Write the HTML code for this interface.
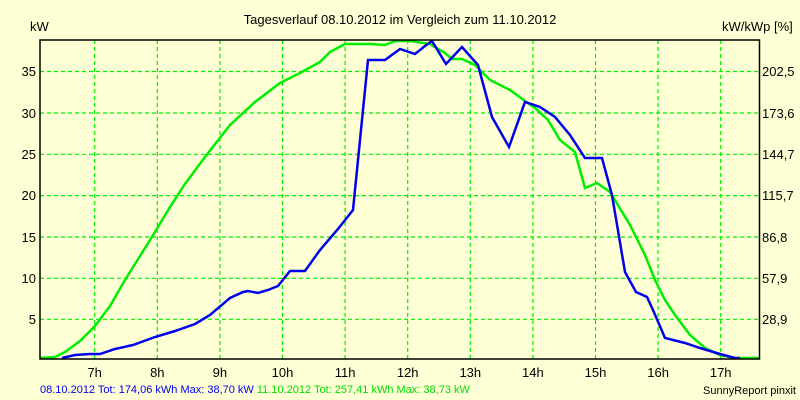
<!DOCTYPE html>
<html><head><style>body{margin:0;background:#ffffd5;}svg{display:block;font-family:"Liberation Sans",sans-serif;}</style></head><body>
<svg width="800" height="400" xmlns="http://www.w3.org/2000/svg">
<rect width="800" height="400" fill="#ffffd5"/>
<g stroke="#00ee00" stroke-dasharray="4,3" stroke-width="1.2">
<line x1="94.7" y1="40" x2="94.7" y2="359"/><line x1="157.3" y1="40" x2="157.3" y2="359"/><line x1="219.9" y1="40" x2="219.9" y2="359"/><line x1="282.5" y1="40" x2="282.5" y2="359"/><line x1="345.1" y1="40" x2="345.1" y2="359"/><line x1="407.7" y1="40" x2="407.7" y2="359"/><line x1="470.3" y1="40" x2="470.3" y2="359"/><line x1="532.9" y1="40" x2="532.9" y2="359"/><line x1="595.5" y1="40" x2="595.5" y2="359"/><line x1="658.1" y1="40" x2="658.1" y2="359"/><line x1="720.7" y1="40" x2="720.7" y2="359"/>
<line x1="40" y1="71.5" x2="760" y2="71.5"/><line x1="40" y1="113" x2="760" y2="113"/><line x1="40" y1="154.3" x2="760" y2="154.3"/><line x1="40" y1="195.6" x2="760" y2="195.6"/><line x1="40" y1="237" x2="760" y2="237"/><line x1="40" y1="278.3" x2="760" y2="278.3"/><line x1="40" y1="319.3" x2="760" y2="319.3"/>
</g>
<polyline fill="none" stroke="#00ee00" stroke-width="2.5" points="40,358 55,357 65,352 80,341 95,326 110,306 125,280 140,256 155,232 170,207 185,184 205,157 230,125 255,102 280,83 300,73 320,62 330,52 345,44 370,44 385,45 395,41 410,41 430,44 445,53 452,59 462,59 475,65 490,80 500,85 510,90 525,101 535,108 548,120 560,140 575,152 585,188 597,183 610,192 630,225 645,255 655,280 665,300 675,315 690,335 705,348 720,355 735,358 760,358"/>
<polyline fill="none" stroke="#0000ee" stroke-width="2.5" points="62,358 75,355 90,354 100,354 115,349 133,345 155,337 175,331 195,324 210,315 230,298 243,292 248,291 258,293 268,290 278,286 290,271 305,271 320,250 338,229 353,210 368,60 385,60 400,49 415,54 425,46 432,41 446,64 462,47 478,65 492,117 509,147 525,102 540,107 555,117 570,135 585,158 602,158 612,195 625,272 636,292 647,297 653,310 665,338 685,343 700,348 720,354 735,358 740,358"/>
<rect x="40" y="40" width="719.5" height="319" fill="none" stroke="#000" stroke-width="1.5"/>
<g font-size="13" fill="#000">
<text x="400" y="24" text-anchor="middle">Tagesverlauf 08.10.2012 im Vergleich zum 11.10.2012</text>
<text x="30" y="31">kW</text>
<text x="722" y="31">kW/kWp [%]</text>
<g text-anchor="end"><text x="36" y="76">35</text><text x="36" y="118">30</text><text x="36" y="159">25</text><text x="36" y="200">20</text><text x="36" y="242">15</text><text x="36" y="283">10</text><text x="36" y="324">5</text></g>
<g><text x="762" y="76">202,5</text><text x="762" y="118">173,6</text><text x="762" y="159">144,7</text><text x="762" y="200">115,7</text><text x="762" y="242">86,8</text><text x="762" y="283">57,9</text><text x="762" y="324">28,9</text></g>
<g text-anchor="middle"><text x="94.7" y="377">7h</text><text x="157.3" y="377">8h</text><text x="219.9" y="377">9h</text><text x="282.5" y="377">10h</text><text x="345.1" y="377">11h</text><text x="407.7" y="377">12h</text><text x="470.3" y="377">13h</text><text x="532.9" y="377">14h</text><text x="595.5" y="377">15h</text><text x="658.1" y="377">16h</text><text x="720.7" y="377">17h</text></g>
</g>
<text x="40" y="393" font-size="11" fill="#0000ee">08.10.2012 Tot: 174,06 kWh Max: 38,70 kW <tspan fill="#00dd00">11.10.2012 Tot: 257,41 kWh Max: 38,73 kW</tspan></text>
<text x="796" y="394" font-size="11" fill="#000" text-anchor="end">SunnyReport pinxit</text>
</svg>
</body></html>
